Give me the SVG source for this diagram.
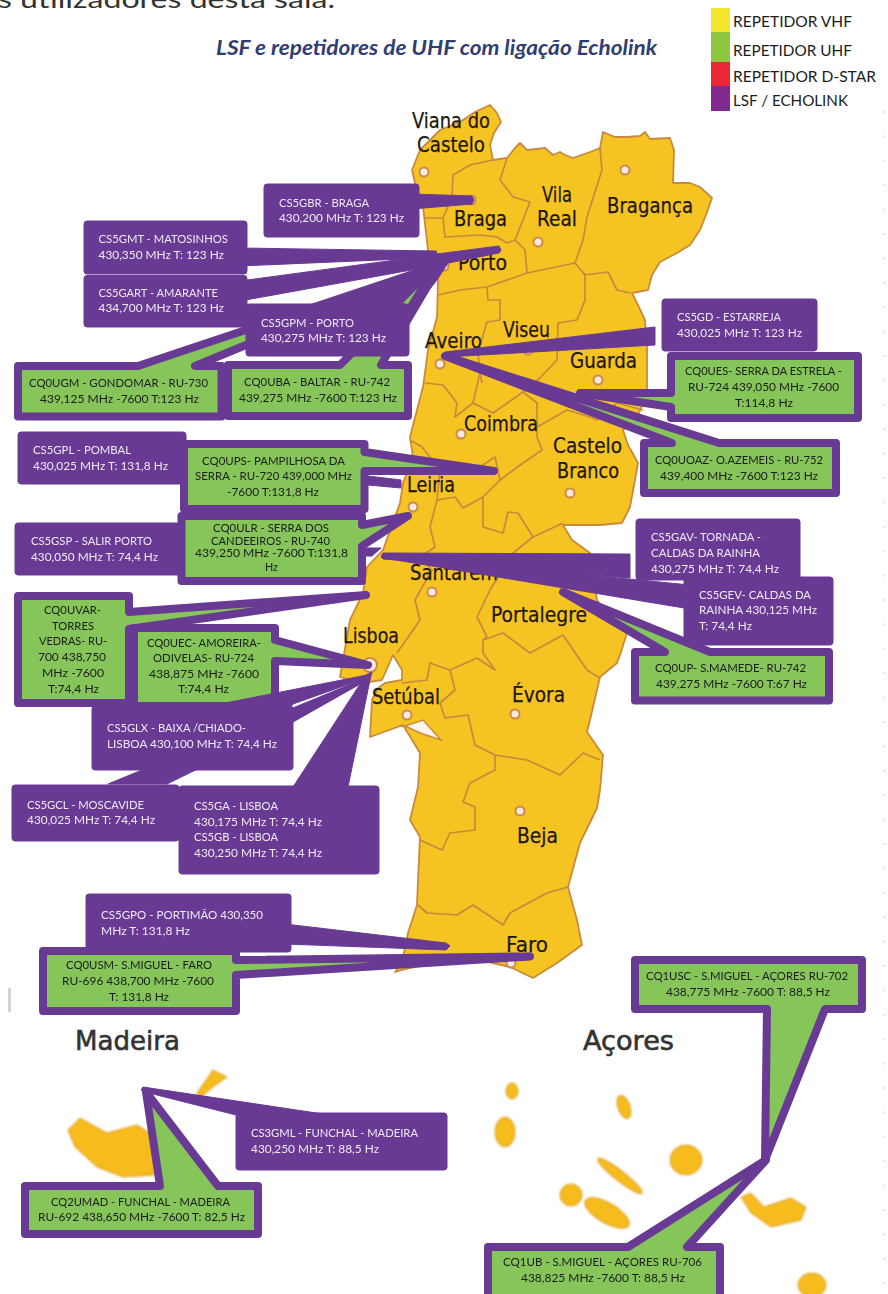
<svg xmlns="http://www.w3.org/2000/svg" width="888" height="1294" viewBox="0 0 888 1294">
<style>
text{font-family:Lato,"Liberation Sans",sans-serif;font-size:11.5px}
.w{fill:#efe9f5}
.k{fill:#1c1c1c}
.r{fill:#693a94;stroke:#693a94;stroke-width:1;stroke-linejoin:round}
.g{fill:#85c559;stroke:#693a94;stroke-width:8;stroke-linejoin:round}
.b{fill:none;stroke:#c58a3c;stroke-width:1.7;stroke-linejoin:round}
.m{font-family:"DejaVu Sans",sans-serif;font-size:21px;fill:#1d1608;stroke:#1d1608;stroke-width:.25}
.h{font-family:"DejaVu Sans",sans-serif;font-size:27px;fill:#333;stroke:#333;stroke-width:.6}
.d{fill:#fde9e0;stroke:#c98a4c;stroke-width:2}
.l{font-size:16px;fill:#1c1c1c}
.i{fill:#f6bb1e;stroke:#d99a2c;stroke-width:1}
</style>
<defs>
<filter id="soft" x="-5%" y="-5%" width="110%" height="110%"><feGaussianBlur stdDeviation="0.5"/></filter>
<filter id="softer" x="-20%" y="-20%" width="140%" height="140%"><feGaussianBlur stdDeviation="0.9"/></filter>
</defs>
<rect width="888" height="1294" fill="#fff"/>
<g id="page">
<text x="-2" y="8" style="font-size:25px" fill="#333" textLength="337" lengthAdjust="spacingAndGlyphs">s utilizadores desta sala.</text>
<text x="216" y="55" style="font-size:20px;font-weight:700;font-style:italic" fill="#2f3d73" textLength="441" lengthAdjust="spacingAndGlyphs">LSF e repetidores de UHF com ligação Echolink</text>
<rect x="8" y="988" width="3" height="24" fill="#d4d4d4"/>
<line x1="884.5" y1="111" x2="884.5" y2="1294" stroke="#d8d8d8" stroke-width="1.5" stroke-dasharray="2 22.4"/>
</g>
<g id="legend">
<rect x="711" y="8" width="19" height="24" fill="#f1e62c"/>
<rect x="711" y="32" width="19" height="30" fill="#8dc63f"/>
<rect x="711" y="62" width="19" height="24" fill="#ee2737"/>
<rect x="711" y="86" width="19" height="25" fill="#7f2a8c"/>
<text class="l" x="733" y="27" textLength="119" lengthAdjust="spacingAndGlyphs">REPETIDOR VHF</text>
<text class="l" x="733" y="56" textLength="119" lengthAdjust="spacingAndGlyphs">REPETIDOR UHF</text>
<text class="l" x="733" y="82" textLength="143" lengthAdjust="spacingAndGlyphs">REPETIDOR D-STAR</text>
<text class="l" x="733" y="106" textLength="115" lengthAdjust="spacingAndGlyphs">LSF / ECHOLINK</text>
</g>
<g id="map">
<g filter="url(#soft)">
<path fill="#f5c322" stroke="#c98a3c" stroke-width="1.8" stroke-linejoin="round" d="M415,183 412,170 420,150 440,130 460,122 475,112 490,105 497,113 501,122 494,133 490,145 493,160 507,158 515,148 520,143 527,150 545,148 553,155 560,152 565,155 573,158 590,152 600,148 603,132 615,137 627,137 640,136 645,132 650,139 670,138 674,150 673,183 690,183 700,187 712,198 706,215 700,230 690,245 677,253 660,262 652,275 648,290 632,293 638,305 645,320 647,345 647,363 647,395 638,415 623,430 628,445 638,463 635,480 630,507 622,523 600,525 563,525 572,540 590,553 597,600 612,620 627,633 620,655 617,663 600,677 590,720 587,732 603,755 600,790 597,808 580,843 568,887 577,920 582,945 557,963 533,978 510,967 480,960 445,963 420,966 410,968 395,972 402,963 408,933 417,905 418,880 420,837 410,820 418,787 420,753 403,725 370,737 372,700 378,688 385,683 402,680 402,670 393,655 382,680 362,683 340,677 350,620 363,593 367,567 383,550 400,503 403,483 413,457 410,437 423,387 428,350 437,317 438,280 430,267 423,207Z"/>
<path fill="#fff3ea" stroke="#c98a3c" stroke-width="1.4" d="M405,726 423,720 441,740 420,733Z"/>
<path class="b" d="M493,160 470,165 453,175 452,197 443,218 425,218"/>
<path class="b" d="M443,218 445,237 480,235 497,237 507,243 515,240 530,202 513,197 500,180 507,158"/>
<path class="b" d="M600,148 602,170 587,217 583,240 575,263 527,273 525,250 515,240"/>
<path class="b" d="M527,273 487,287 460,290 438,295"/>
<path class="b" d="M575,263 585,275 608,272 617,290 630,293"/>
<path class="b" d="M487,287 488,300 500,300 500,320 487,322 478,353 480,373 473,403 493,413 523,392 540,378 557,360 558,323 577,320 585,300 585,273"/>
<path class="b" d="M425,383 443,385 457,403 455,417 473,403"/>
<path class="b" d="M480,373 482,383"/>
<path class="b" d="M523,392 537,403 537,437 542,450 523,463 500,480 495,457 475,470"/>
<path class="b" d="M537,427 567,410 590,417 597,420 617,403 643,410"/>
<path class="b" d="M410,440 422,447 440,470 437,500 455,497 463,508 483,497 500,480"/>
<path class="b" d="M483,497 483,527 503,533 508,512 518,513 533,537 513,553 490,590 477,617 487,637 483,640 483,653 495,670 477,658 450,670 430,663 427,680 402,683"/>
<path class="b" d="M533,537 563,523"/>
<path class="b" d="M437,500 430,527 435,547 420,557 432,570 415,600 420,620 397,653"/>
<path class="b" d="M483,640 503,633 530,653 563,635 587,670 600,678"/>
<path class="b" d="M450,670 455,690 440,703 445,718 468,715 475,745 495,755 527,760 560,775 583,753 600,760"/>
<path class="b" d="M495,755 495,770 470,783 463,802 475,807 475,830 450,833 442,850 420,840"/>
<path class="b" d="M568,887 547,893 510,913 503,925 473,905 457,915 427,913 418,905"/>
</g>
<text class="m" x="412" y="128" textLength="78" lengthAdjust="spacingAndGlyphs">Viana do</text>
<text class="m" x="417" y="152" textLength="68" lengthAdjust="spacingAndGlyphs">Castelo</text>
<text class="m" x="454" y="226" textLength="53" lengthAdjust="spacingAndGlyphs">Braga</text>
<text class="m" x="542" y="202" textLength="30" lengthAdjust="spacingAndGlyphs">Vila</text>
<text class="m" x="537" y="226" textLength="40" lengthAdjust="spacingAndGlyphs">Real</text>
<text class="m" x="607" y="213" textLength="86" lengthAdjust="spacingAndGlyphs">Bragança</text>
<text class="m" x="458" y="270" textLength="49" lengthAdjust="spacingAndGlyphs">Porto</text>
<text class="m" x="425" y="348" textLength="57" lengthAdjust="spacingAndGlyphs">Aveiro</text>
<text class="m" x="503" y="337" textLength="47" lengthAdjust="spacingAndGlyphs">Viseu</text>
<text class="m" x="570" y="368" textLength="67" lengthAdjust="spacingAndGlyphs">Guarda</text>
<text class="m" x="464" y="431" textLength="74" lengthAdjust="spacingAndGlyphs">Coimbra</text>
<text class="m" x="553" y="453" textLength="69" lengthAdjust="spacingAndGlyphs">Castelo</text>
<text class="m" x="557" y="478" textLength="62" lengthAdjust="spacingAndGlyphs">Branco</text>
<text class="m" x="407" y="492" textLength="48" lengthAdjust="spacingAndGlyphs">Leiria</text>
<text class="m" x="410" y="580" textLength="88" lengthAdjust="spacingAndGlyphs">Santarém</text>
<text class="m" x="491" y="622" textLength="96" lengthAdjust="spacingAndGlyphs">Portalegre</text>
<text class="m" x="512" y="702" textLength="53" lengthAdjust="spacingAndGlyphs">Évora</text>
<text class="m" x="372" y="704" textLength="68" lengthAdjust="spacingAndGlyphs">Setúbal</text>
<text class="m" x="343" y="643" textLength="56" lengthAdjust="spacingAndGlyphs">Lisboa</text>
<text class="m" x="517" y="843" textLength="41" lengthAdjust="spacingAndGlyphs">Beja</text>
<text class="m" x="506" y="952" textLength="42" lengthAdjust="spacingAndGlyphs">Faro</text>
<g id="cities">
<circle class="d" cx="424" cy="172" r="4.5"/><circle class="d" cx="625" cy="170" r="4.5"/><circle class="d" cx="471" cy="200" r="4.5"/><circle class="d" cx="538" cy="242" r="4.5"/><circle class="d" cx="444" cy="266" r="4.5"/><circle class="d" cx="440" cy="364" r="4.5"/><circle class="d" cx="528" cy="350" r="4.5"/><circle class="d" cx="598" cy="380" r="4.5"/><circle class="d" cx="461" cy="434" r="4.5"/><circle class="d" cx="570" cy="493" r="4.5"/><circle class="d" cx="413" cy="507" r="4.5"/><circle class="d" cx="432" cy="592" r="4.5"/><circle class="d" cx="370" cy="665" r="7"/><circle class="d" cx="407" cy="715" r="4.5"/><circle class="d" cx="515" cy="714" r="4.5"/><circle class="d" cx="520" cy="811" r="4.5"/><circle class="d" cx="511" cy="963" r="4.5"/>
</g>
<text class="h" x="75" y="1050" textLength="105" lengthAdjust="spacingAndGlyphs">Madeira</text>
<text class="h" x="583" y="1050" textLength="91" lengthAdjust="spacingAndGlyphs">Açores</text>
<g id="islands" filter="url(#softer)">
<path class="i" d="M68,1130 80,1118 107,1133 137,1125 150,1133 155,1175 123,1177 97,1167 75,1147Z"/>
<path class="i" d="M197,1093 213,1070 227,1077 213,1087 200,1098Z"/>
<ellipse class="i" cx="512" cy="1091" rx="6" ry="8"/>
<ellipse class="i" cx="505" cy="1132" rx="10" ry="15"/>
<ellipse class="i" cx="624" cy="1107" rx="6" ry="12" transform="rotate(-20 624 1107)"/>
<ellipse class="i" cx="620" cy="1176" rx="28" ry="5" transform="rotate(38 620 1176)"/>
<ellipse class="i" cx="571" cy="1195" rx="11" ry="11"/>
<ellipse class="i" cx="607" cy="1213" rx="25" ry="10" transform="rotate(30 607 1213)"/>
<ellipse class="i" cx="686" cy="1160" rx="16" ry="15"/>
<path class="i" d="M741,1197 751,1193 764,1207 791,1198 806,1207 801,1220 771,1227 751,1213Z"/>
<ellipse class="i" cx="812" cy="1285" rx="14" ry="12"/>
</g>
</g>
<g id="node-CS5GPL"><rect class="r" x="18" y="432" width="168" height="52" rx="3"/>
<text class="w" x="33" y="454" textLength="98" lengthAdjust="spacingAndGlyphs">CS5GPL - POMBAL</text><text class="w" x="33" y="470" textLength="135" lengthAdjust="spacingAndGlyphs">430,025 MHz T: 131,8 Hz</text></g>
<g id="node-CS5GSP"><rect class="r" x="15" y="523" width="168" height="52" rx="3"/>
<text class="w" x="31" y="545" textLength="121" lengthAdjust="spacingAndGlyphs">CS5GSP - SALIR PORTO</text><text class="w" x="31" y="561" textLength="127" lengthAdjust="spacingAndGlyphs">430,050 MHz T: 74,4 Hz</text></g>
<g id="node-CS5GAV"><rect class="r" x="636" y="519" width="164" height="61" rx="3"/>
<text class="w" x="651" y="541" textLength="110" lengthAdjust="spacingAndGlyphs">CS5GAV- TORNADA -</text><text class="w" x="651" y="557" textLength="109" lengthAdjust="spacingAndGlyphs">CALDAS  DA RAINHA</text><text class="w" x="651" y="573" textLength="128" lengthAdjust="spacingAndGlyphs">430,275 MHz T: 74,4 Hz</text></g>
<g id="node-CQ0UGM"><path class="g" d="M18,366H138L440,265 195,366H221.5V416.5H18Z"/>
<text class="k" x="29" y="387" textLength="179" lengthAdjust="spacingAndGlyphs">CQ0UGM - GONDOMAR - RU-730</text><text class="k" x="40" y="403" textLength="159" lengthAdjust="spacingAndGlyphs">439,125 MHz  -7600 T:123 Hz</text></g>
<g id="node-CQ0UBA"><path class="g" d="M228,365H340L440,265 381,365H408V416H228Z"/>
<text class="k" x="244" y="386" textLength="146" lengthAdjust="spacingAndGlyphs">CQ0UBA - BALTAR - RU-742</text><text class="k" x="239" y="402" textLength="158" lengthAdjust="spacingAndGlyphs">439,275 MHz  -7600 T:123 Hz</text></g>
<g id="node-CQ0UOAZ"><path class="g" d="M644,443H672L445,356 719,443H836V493H644Z"/>
<text class="k" x="655" y="464" textLength="168" lengthAdjust="spacingAndGlyphs">CQ0UOAZ- O.AZEMEIS - RU-752</text><text class="k" x="660" y="480" textLength="158" lengthAdjust="spacingAndGlyphs">439,400 MHz  -7600 T:123 Hz</text></g>
<g id="node-CQ0UES"><path class="g" d="M671,356H858V418H671V407L580,393H671Z"/>
<text class="k" x="685" y="375" textLength="157" lengthAdjust="spacingAndGlyphs">CQ0UES- SERRA DA ESTRELA -</text><text class="k" x="688" y="391" textLength="151" lengthAdjust="spacingAndGlyphs">RU-724 439,050 MHz  -7600</text><text class="k" x="735" y="407" textLength="58" lengthAdjust="spacingAndGlyphs">T:114,8 Hz</text></g>
<g id="node-CQ0UPS"><path class="g" d="M184,444H364.5V452L494,471H364.5V509H184Z"/>
<text class="k" x="202" y="465" textLength="143" lengthAdjust="spacingAndGlyphs">CQ0UPS- PAMPILHOSA DA</text><text class="k" x="195" y="480" textLength="157" lengthAdjust="spacingAndGlyphs">SERRA - RU-720 439,000 MHz</text><text class="k" x="227" y="496" textLength="92" lengthAdjust="spacingAndGlyphs">-7600 T:131,8 Hz</text></g>
<g id="node-CQ0ULR"><path class="g" d="M181.5,516H362V525L408,516 362,546V581H181.5Z"/>
<text class="k" x="213" y="532" textLength="116" lengthAdjust="spacingAndGlyphs">CQ0ULR - SERRA  DOS</text><text class="k" x="211" y="545" textLength="119" lengthAdjust="spacingAndGlyphs">CANDEEIROS - RU-740</text><text class="k" x="195" y="557" textLength="153" lengthAdjust="spacingAndGlyphs">439,250 MHz  -7600 T:131,8</text><text class="k" x="265" y="571" textLength="13" lengthAdjust="spacingAndGlyphs">Hz</text></g>
<g id="node-CQ0UVAR"><path class="g" d="M18,596H129V612L366,595 129,629V703H18Z"/>
<text class="k" x="44" y="614" textLength="57" lengthAdjust="spacingAndGlyphs">CQ0UVAR-</text><text class="k" x="52" y="630" textLength="42" lengthAdjust="spacingAndGlyphs">TORRES</text><text class="k" x="39" y="645" textLength="68" lengthAdjust="spacingAndGlyphs">VEDRAS- RU-</text><text class="k" x="38" y="661" textLength="68" lengthAdjust="spacingAndGlyphs">700 438,750</text><text class="k" x="42" y="677" textLength="62" lengthAdjust="spacingAndGlyphs">MHz  -7600</text><text class="k" x="48" y="693" textLength="51" lengthAdjust="spacingAndGlyphs">T:74,4 Hz</text></g>
<g id="node-CQ0UEC"><path class="g" d="M134,628H275V640L368,665 275,661V706H134Z"/>
<text class="k" x="147" y="647" textLength="114" lengthAdjust="spacingAndGlyphs">CQ0UEC- AMOREIRA-</text><text class="k" x="153" y="662" textLength="101" lengthAdjust="spacingAndGlyphs">ODIVELAS- RU-724</text><text class="k" x="149" y="678" textLength="110" lengthAdjust="spacingAndGlyphs">438,875 MHz  -7600</text><text class="k" x="178" y="693" textLength="51" lengthAdjust="spacingAndGlyphs">T:74,4 Hz</text></g>
<g id="node-CQ0UP"><path class="g" d="M635,652H665L563,592 710,652H829V700.5H635Z"/>
<text class="k" x="655" y="672" textLength="151" lengthAdjust="spacingAndGlyphs">CQ0UP- S.MAMEDE- RU-742</text><text class="k" x="656" y="688" textLength="151" lengthAdjust="spacingAndGlyphs">439,275 MHz  -7600 T:67 Hz</text></g>
<g id="node-CQ0USM"><path class="g" d="M43,951H236V960L530,956.5 236,975V1011H43Z"/>
<text class="k" x="66" y="969" textLength="146" lengthAdjust="spacingAndGlyphs">CQ0USM- S.MIGUEL - FARO</text><text class="k" x="62" y="985" textLength="152" lengthAdjust="spacingAndGlyphs">RU-696 438,700 MHz  -7600</text><text class="k" x="109" y="1001" textLength="60" lengthAdjust="spacingAndGlyphs">T: 131,8 Hz</text></g>
<g id="node-CQ2UMAD"><path class="g" d="M25,1186H160L146,1092 218,1186H258V1234H25Z"/>
<text class="k" x="51" y="1206" textLength="179" lengthAdjust="spacingAndGlyphs">CQ2UMAD - FUNCHAL - MADEIRA</text><text class="k" x="38" y="1221" textLength="207" lengthAdjust="spacingAndGlyphs">RU-692 438,650 MHz  -7600 T: 82,5 Hz</text></g>
<g id="node-CQ1UB"><path class="g" d="M488,1247H628L766,1160 687,1247H720V1304H488Z"/>
<text class="k" x="503" y="1266" textLength="199" lengthAdjust="spacingAndGlyphs">CQ1UB - S.MIGUEL - AÇORES  RU-706</text><text class="k" x="521" y="1282" textLength="164" lengthAdjust="spacingAndGlyphs">438,825 MHz  -7600 T: 88,5 Hz</text></g>
<g id="node-CQ1USC"><path class="g" d="M635,960H862V1009H825L765,1160 767,1009H635Z"/>
<text class="k" x="646" y="980" textLength="202" lengthAdjust="spacingAndGlyphs">CQ1USC - S.MIGUEL - AÇORES  RU-702</text><text class="k" x="666" y="996" textLength="164" lengthAdjust="spacingAndGlyphs">438,775 MHz  -7600 T: 88,5 Hz</text></g>
<g id="connectors">
<path class="r" d="M412,194 472,196 474,200 472,204 412,209Z"/>
<path class="r" d="M240,248 436,251 438,255 403,259 240,266Z"/>
<path class="r" d="M240,281 403,259 437,254 499,246 501,250 499,253 428,267 240,301Z"/>
<path class="r" d="M320,305 428,267 446,261 448,263 437,280 405,320Z"/>
<path class="r" d="M368,476 401,480 401,488 368,485Z"/>
<path class="r" d="M366,548 381,548 372,556 366,556Z"/>
<path class="r" d="M655,327 445,352 443,355 446,357 655,345Z"/>
<path class="r" d="M630,554 383,553 381,557 383,559 630,578Z"/>
<path class="r" d="M690,585 383,555 384,558 690,609Z"/>
<path class="r" d="M200,708 367,675 369,677 293,704 280,720Z"/>
<path class="r" d="M108,784 300,705 366,678 369,679 293,722 167,784Z"/>
<path class="r" d="M293,787 366,675 372,672 370,680 348,787Z"/>
<path class="r" d="M285,924 446,943 450,946 446,950 285,944Z"/>
<path class="r" d="M323,1114 143,1087 141,1090 145,1092 236,1115Z"/>
</g>
<g id="node-CS5GBR"><rect class="r" x="264" y="184" width="155" height="53" rx="3"/>
<text class="w" x="279" y="207" textLength="90" lengthAdjust="spacingAndGlyphs">CS5GBR - BRAGA</text><text class="w" x="279" y="222" textLength="125" lengthAdjust="spacingAndGlyphs">430,200 MHz T: 123 Hz</text></g>
<g id="node-CS5GMT"><rect class="r" x="84" y="221" width="163" height="53" rx="3"/>
<text class="w" x="98.500" y="243" textLength="129.500" lengthAdjust="spacingAndGlyphs">CS5GMT - MATOSINHOS</text><text class="w" x="98.500" y="259" textLength="125.500" lengthAdjust="spacingAndGlyphs">430,350 MHz T: 123 Hz</text></g>
<g id="node-CS5GART"><rect class="r" x="84" y="275.500" width="163" height="51.500" rx="3"/>
<text class="w" x="98.500" y="297" textLength="119.500" lengthAdjust="spacingAndGlyphs">CS5GART - AMARANTE</text><text class="w" x="98.500" y="312" textLength="125.500" lengthAdjust="spacingAndGlyphs">434,700 MHz T: 123 Hz</text></g>
<g id="node-CS5GPM"><rect class="r" x="246" y="304" width="163" height="52" rx="3"/>
<path fill="#85c559" d="M403,303 418,288 408,304Z"/>
<text class="w" x="261" y="327" textLength="93" lengthAdjust="spacingAndGlyphs">CS5GPM - PORTO</text><text class="w" x="261" y="342" textLength="125" lengthAdjust="spacingAndGlyphs">430,275 MHz T: 123 Hz</text></g>
<g id="node-CS5GD"><rect class="r" x="662" y="299" width="155" height="52" rx="3"/>
<text class="w" x="677" y="321" textLength="104" lengthAdjust="spacingAndGlyphs">CS5GD - ESTARREJA</text><text class="w" x="677" y="337" textLength="125" lengthAdjust="spacingAndGlyphs">430,025 MHz T: 123 Hz</text></g>
<g id="node-CS5GEV"><rect class="r" x="684" y="577" width="149" height="68" rx="3"/>
<text class="w" x="699" y="599" textLength="112" lengthAdjust="spacingAndGlyphs">CS5GEV- CALDAS  DA</text><text class="w" x="699" y="614" textLength="118" lengthAdjust="spacingAndGlyphs">RAINHA 430,125 MHz</text><text class="w" x="699" y="630" textLength="53" lengthAdjust="spacingAndGlyphs">T: 74,4 Hz</text></g>
<g id="node-CS5GLX"><rect class="r" x="92" y="706" width="201" height="64" rx="3"/>
<text class="w" x="107" y="732" textLength="139" lengthAdjust="spacingAndGlyphs">CS5GLX - BAIXA /CHIADO-</text><text class="w" x="107" y="748" textLength="170" lengthAdjust="spacingAndGlyphs">LISBOA 430,100 MHz T: 74,4 Hz</text></g>
<g id="node-CS5GCL"><rect class="r" x="12" y="785" width="167" height="56" rx="3"/>
<text class="w" x="27" y="809" textLength="117" lengthAdjust="spacingAndGlyphs">CS5GCL - MOSCAVIDE</text><text class="w" x="27" y="824" textLength="128" lengthAdjust="spacingAndGlyphs">430,025 MHz T: 74,4 Hz</text></g>
<g id="node-CS5GA"><rect class="r" x="179" y="786" width="200" height="88" rx="3"/>
<text class="w" x="194" y="810" textLength="84" lengthAdjust="spacingAndGlyphs">CS5GA - LISBOA</text><text class="w" x="194" y="826" textLength="128" lengthAdjust="spacingAndGlyphs">430,175 MHz T: 74,4 Hz</text><text class="w" x="194" y="841" textLength="84" lengthAdjust="spacingAndGlyphs">CS5GB - LISBOA</text><text class="w" x="194" y="857" textLength="128" lengthAdjust="spacingAndGlyphs">430,250 MHz T: 74,4 Hz</text></g>
<g id="node-CS5GPO"><rect class="r" x="86" y="894" width="205" height="58" rx="3"/>
<text class="w" x="101" y="919" textLength="162" lengthAdjust="spacingAndGlyphs">CS5GPO - PORTIMÃO 430,350</text><text class="w" x="101" y="935" textLength="89" lengthAdjust="spacingAndGlyphs">MHz T: 131,8 Hz</text></g>
<g id="node-CS3GML"><rect class="r" x="236" y="1113" width="211" height="57" rx="3"/>
<text class="w" x="251" y="1137" textLength="167" lengthAdjust="spacingAndGlyphs">CS3GML - FUNCHAL - MADEIRA</text><text class="w" x="251" y="1153" textLength="128" lengthAdjust="spacingAndGlyphs">430,250 MHz T: 88,5 Hz</text></g>
</svg>
